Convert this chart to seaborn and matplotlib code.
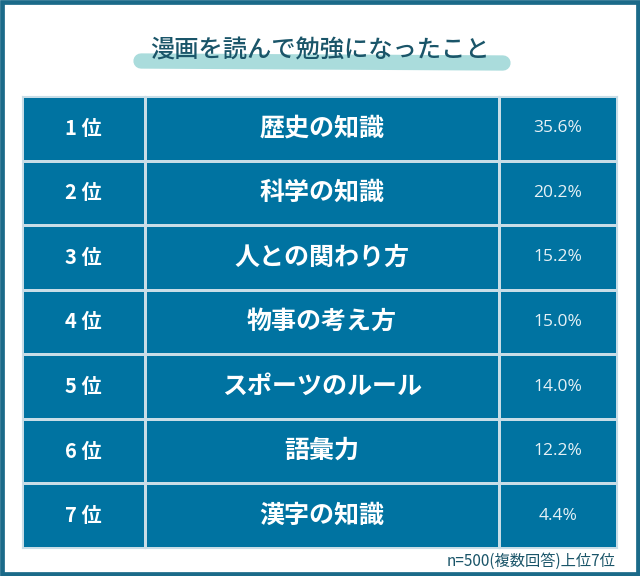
import numpy as np
import seaborn as sns
import matplotlib.pyplot as plt
from matplotlib.colors import ListedColormap
from matplotlib.patches import Rectangle

title = "漫画を読んで勉強になったこと"
ranks = ["1 位", "2 位", "3 位", "4 位", "5 位", "6 位", "7 位"]
items = ["歴史の知識", "科学の知識", "人との関わり方", "物事の考え方",
         "スポーツのルール", "語彙力", "漢字の知識"]
pcts = [35.6, 20.2, 15.2, 15.0, 14.0, 12.2, 4.4]
note = "n=500(複数回答)上位7位"

cell = "#0073a1"
line = "#c8dde7"
dark = "#1a5569"

sns.set_theme(style="white")
plt.rcParams["font.family"] = ["Noto Sans CJK JP", "DejaVu Sans"]

W, H = 640, 576
fig = plt.figure(figsize=(W / 100, H / 100), dpi=100)
fig.patch.set_facecolor("white")

# background axis in pixel coordinates
bg = fig.add_axes([0, 0, 1, 1])
bg.set_xlim(0, W)
bg.set_ylim(H, 0)
bg.axis("off")
bg.add_patch(Rectangle((2, 2), W - 4, H - 4, fill=False,
                       edgecolor="#1b6a89", linewidth=3.4))
bg.plot([141, 503], [61, 63], color="#aadcdc", linewidth=11,
        solid_capstyle="round")
bg.text(W / 2, 50, title, ha="center", va="center", fontsize=17.5,
        color=dark, fontweight="medium")
bg.text(615, 561, note, ha="right", va="center", fontsize=11, color=dark)

# table columns
top, bottom = 96, 548
cols = [(22, 145), (145, 499), (499, 617)]
labels = [
    np.array(ranks).reshape(-1, 1),
    np.array(items).reshape(-1, 1),
    np.array([f"{p:.1f}%" for p in pcts]).reshape(-1, 1),
]
kws = [
    dict(fontsize=14.5, fontweight="bold", color="white"),
    dict(fontsize=18, fontweight="bold", color="white"),
    dict(fontsize=12.5, color="#e6f1f6", family=["Open Sans", "DejaVu Sans"]),
]
for (x0, x1), lab, kw in zip(cols, labels, kws):
    ax = fig.add_axes([x0 / W, 1 - bottom / H, (x1 - x0) / W, (bottom - top) / H])
    sns.heatmap(np.zeros((len(ranks), 1)), cmap=ListedColormap([cell]),
                cbar=False, linewidths=1.0, linecolor=line,
                annot=lab, fmt="", annot_kws=kw,
                xticklabels=False, yticklabels=False, ax=ax)
    for s in ax.spines.values():
        s.set_visible(True)
        s.set_color(line)
        s.set_linewidth(0.8)

fig.savefig("out.png", dpi=100)
